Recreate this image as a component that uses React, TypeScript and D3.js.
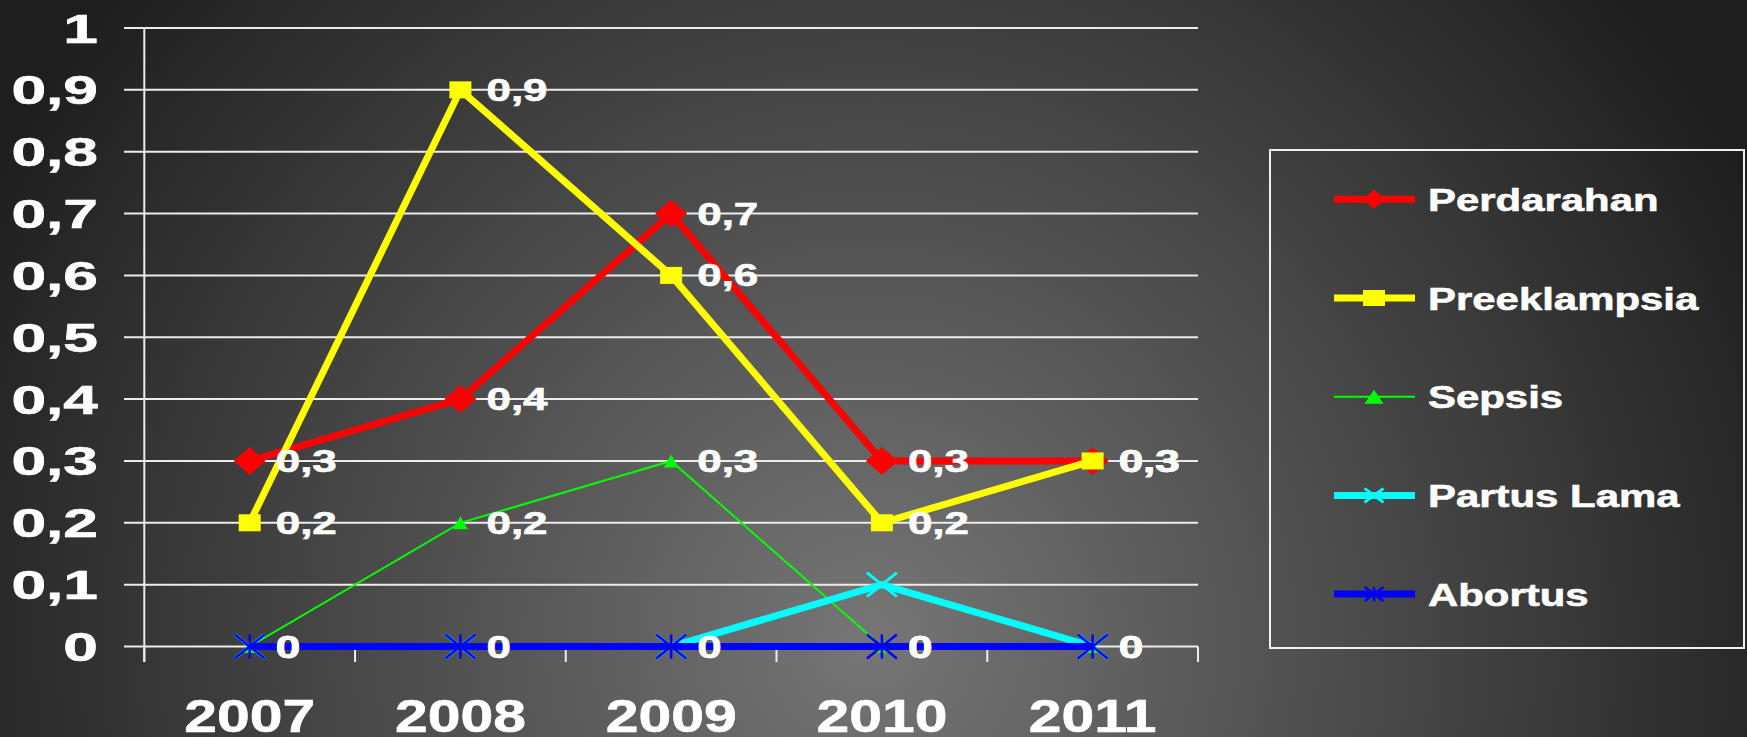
import React from "react";
import * as d3 from "d3";

const years = ["2007", "2008", "2009", "2010", "2011"];
const perdarahan = [0.3, 0.4, 0.7, 0.3, 0.3];
const preeklampsia = [0.2, 0.9, 0.6, 0.2, 0.3];
const sepsis = [0, 0.2, 0.3, 0, 0];
const partusLama = [0, 0, 0, 0.1, 0];
const abortus = [0, 0, 0, 0, 0];
const yTicks = [0, 0.1, 0.2, 0.3, 0.4, 0.5, 0.6, 0.7, 0.8, 0.9, 1];
const seriesNames = ["Perdarahan", "Preeklampsia", "Sepsis", "Partus Lama", "Abortus"];

const W = 1747;
const H = 737;
const FONT = "'Liberation Sans', Arial, Helvetica, sans-serif";

const fmt = (v: number) => (v === 0 ? "0" : v === 1 ? "1" : d3.format(".1f")(v).replace(".", ","));

type MarkerKind = "diamond" | "square" | "triangle" | "x" | "asterisk";

function Marker({ kind, x, y, w, h, color }: { kind: MarkerKind; x: number; y: number; w: number; h: number; color: string }) {
  const hw = w / 2;
  const hh = h / 2;
  if (kind === "diamond") {
    const p = d3.path();
    p.moveTo(x, y - hh);
    p.lineTo(x + hw, y);
    p.lineTo(x, y + hh);
    p.lineTo(x - hw, y);
    p.closePath();
    return <path d={p.toString()} fill={color} />;
  }
  if (kind === "square") {
    return <rect x={x - hw} y={y - hh} width={w} height={h} fill={color} />;
  }
  if (kind === "triangle") {
    const p = d3.path();
    p.moveTo(x, y - hh);
    p.lineTo(x + hw, y + hh);
    p.lineTo(x - hw, y + hh);
    p.closePath();
    return <path d={p.toString()} fill={color} />;
  }
  if (kind === "x") {
    return (
      <g stroke={color} strokeWidth={3}>
        <line x1={x - hw} y1={y - hh} x2={x + hw} y2={y + hh} />
        <line x1={x - hw} y1={y + hh} x2={x + hw} y2={y - hh} />
      </g>
    );
  }
  return (
    <g stroke={color} strokeWidth={2.5}>
      <line x1={x - hw} y1={y - hh} x2={x + hw} y2={y + hh} />
      <line x1={x - hw} y1={y + hh} x2={x + hw} y2={y - hh} />
      <line x1={x} y1={y - hh} x2={x} y2={y + hh} />
    </g>
  );
}

function SText({ x, y, sx, size, anchor, children }: { x: number; y: number; sx: number; size: number; anchor: string; children: React.ReactNode }) {
  return (
    <g transform={`translate(${x},${y}) scale(${sx},1)`}>
      <text
        x={0}
        y={0}
        fontFamily={FONT}
        fontWeight="bold"
        fontSize={size}
        fill="#ffffff"
        stroke="#ffffff"
        strokeWidth={0.6}
        textAnchor={anchor}
      >
        {children}
      </text>
    </g>
  );
}

export default function App() {
  const x = d3.scaleBand().domain(years).range([144.3, 1198]).padding(0);
  const y = d3.scaleLinear().domain([0, 1]).range([646.5, 28]);
  const cx = (d: string) => (x(d) as number) + x.bandwidth() / 2;

  const series = [
    { name: seriesNames[0], values: perdarahan, color: "#ff0000", width: 7, kind: "diamond" as MarkerKind, mw: 32, mh: 28, lw: 23, lh: 19, labels: true },
    { name: seriesNames[1], values: preeklampsia, color: "#ffff00", width: 7, kind: "square" as MarkerKind, mw: 22, mh: 17, lw: 22, lh: 16, labels: true },
    { name: seriesNames[2], values: sepsis, color: "#00ff00", width: 2, kind: "triangle" as MarkerKind, mw: 15, mh: 13, lw: 19, lh: 14, labels: true },
    { name: seriesNames[3], values: partusLama, color: "#00ffff", width: 7, kind: "x" as MarkerKind, mw: 30, mh: 24, lw: 19, lh: 14, labels: false },
    { name: seriesNames[4], values: abortus, color: "#0000ff", width: 7, kind: "asterisk" as MarkerKind, mw: 30, mh: 24, lw: 19, lh: 14, labels: true },
  ];

  const line = d3
    .line<number>()
    .x((_, i) => cx(years[i]))
    .y((v) => y(v));

  const range = x.range();
  const boundaries = years.map((d) => x(d) as number).concat([range[1]]);

  const legendX0 = 1334;
  const legendX1 = 1415;
  const legendMx = 1374;
  const legendY0 = 199.3;
  const legendStep = 98.7;

  return (
    <svg width={W} height={H} style={{ position: "absolute", left: 0, top: 0 }}>
      <defs>
        <radialGradient id="bg" gradientUnits="userSpaceOnUse" cx={870} cy={640} r={1000}>
          <stop offset="0" stopColor="#767676" />
          <stop offset="1" stopColor="#1e1e1e" />
        </radialGradient>
      </defs>
      <rect x={0} y={0} width={W} height={H} fill="url(#bg)" />

      {/* gridlines */}
      {yTicks.map((t) => (
        <line key={"g" + t} x1={124} x2={range[1]} y1={y(t)} y2={y(t)} stroke="#ececec" strokeWidth={2} />
      ))}
      {/* y axis */}
      <line x1={range[0]} x2={range[0]} y1={y(1)} y2={662} stroke="#ececec" strokeWidth={2} />
      {/* x ticks */}
      {boundaries.map((b, i) => (
        <line key={"t" + i} x1={b} x2={b} y1={y(0)} y2={662} stroke="#ececec" strokeWidth={2} />
      ))}

      {/* y labels */}
      {yTicks.map((t) => (
        <SText key={"yl" + t} x={98} y={y(t) + 14.5} sx={1.52} size={41} anchor="end">
          {fmt(t)}
        </SText>
      ))}

      {/* x labels */}
      {years.map((d) => (
        <SText key={"xl" + d} x={cx(d)} y={732} sx={1.28} size={46} anchor="middle">
          {d}
        </SText>
      ))}

      {/* series */}
      {series.map((s) => (
        <g key={s.name}>
          <path d={line(s.values) || ""} fill="none" stroke={s.color} strokeWidth={s.width} strokeLinejoin="miter" />
          {s.values.map((v, i) => (
            <Marker key={i} kind={s.kind} x={cx(years[i])} y={y(v)} w={s.mw} h={s.mh} color={s.color} />
          ))}
        </g>
      ))}

      {/* data labels */}
      {series
        .filter((s) => s.labels)
        .map((s) =>
          s.values.map((v, i) => (
            <SText key={s.name + "dl" + i} x={cx(years[i]) + 26} y={y(v) + 11} sx={1.42} size={31} anchor="start">
              {fmt(v)}
            </SText>
          ))
        )}

      {/* legend */}
      <rect x={1270} y={150} width={474} height={498} fill="none" stroke="#f0f0f0" strokeWidth={2} />
      {series.map((s, i) => {
        const ly = legendY0 + i * legendStep;
        return (
          <g key={"lg" + s.name}>
            <line x1={legendX0} x2={legendX1} y1={ly} y2={ly} stroke={s.color} strokeWidth={s.width} />
            <Marker kind={s.kind} x={legendMx} y={ly} w={s.lw} h={s.lh} color={s.color} />
            <SText x={1428} y={ly + 11.5} sx={1.31} size={32} anchor="start">
              {s.name}
            </SText>
          </g>
        );
      })}
    </svg>
  );
}
